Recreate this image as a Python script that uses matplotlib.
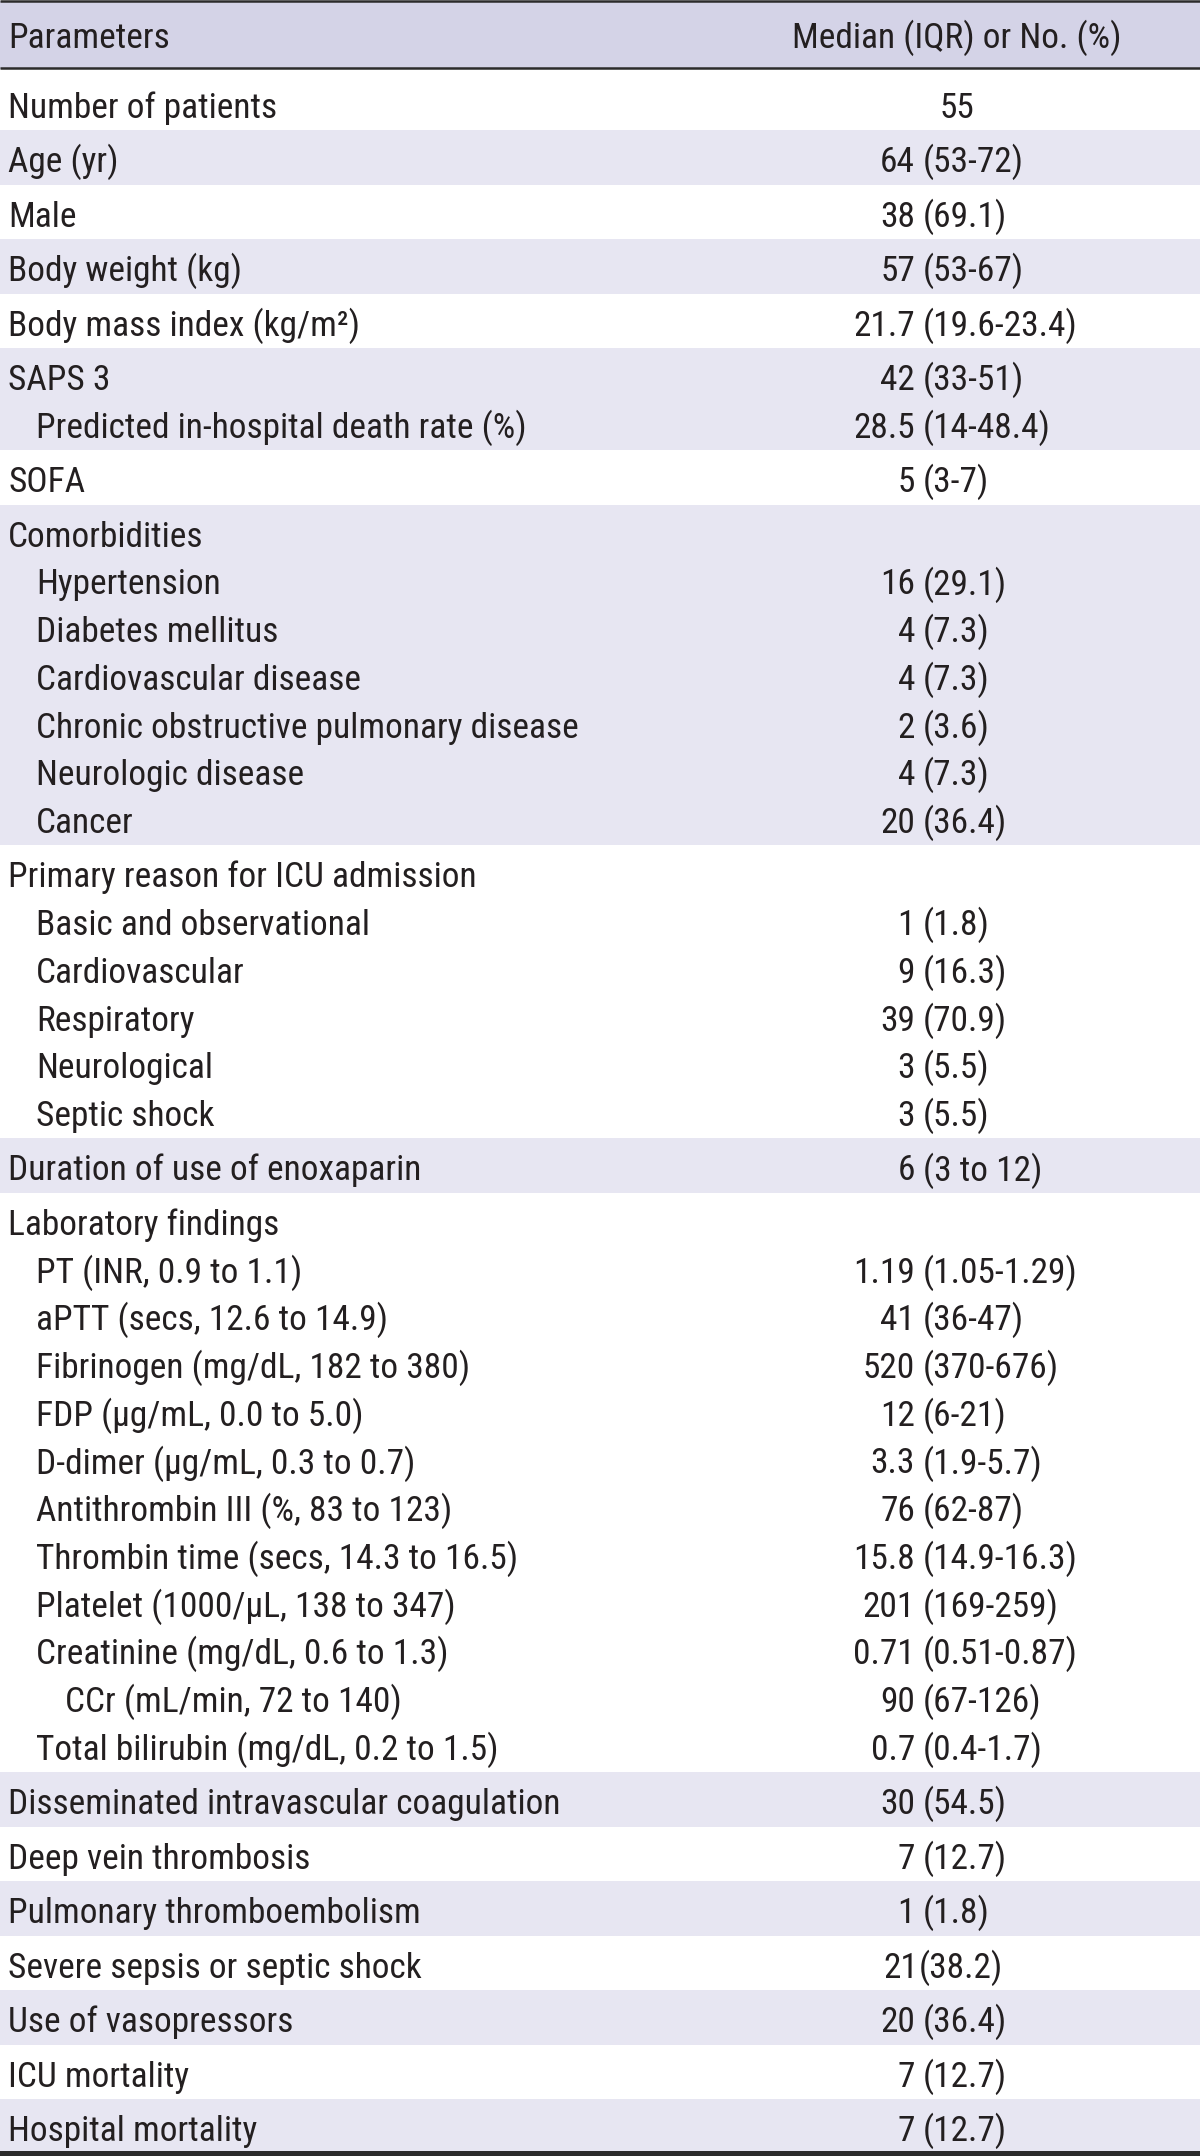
import matplotlib
matplotlib.use('Agg')
import matplotlib.pyplot as plt
from matplotlib import font_manager
from matplotlib.patches import Rectangle

# table content
row_labels = [
    'Number of patients', 'Age (yr)', 'Male', 'Body weight (kg)',
    'Body mass index (kg/m\u00b2)', 'SAPS 3', 'Predicted in-hospital death rate (%)',
    'SOFA', 'Comorbidities', 'Hypertension', 'Diabetes mellitus',
    'Cardiovascular disease', 'Chronic obstructive pulmonary disease',
    'Neurologic disease', 'Cancer', 'Primary reason for ICU admission',
    'Basic and observational', 'Cardiovascular', 'Respiratory', 'Neurological',
    'Septic shock', 'Duration of use of enoxaparin', 'Laboratory findings',
    'PT (INR, 0.9 to 1.1)', 'aPTT (secs, 12.6 to 14.9)',
    'Fibrinogen (mg/dL, 182 to 380)', 'FDP (\u00b5g/mL, 0.0 to 5.0)',
    'D-dimer (\u00b5g/mL, 0.3 to 0.7)', 'Antithrombin III (%, 83 to 123)',
    'Thrombin time (secs, 14.3 to 16.5)', 'Platelet (1000/\u00b5L, 138 to 347)',
    'Creatinine (mg/dL, 0.6 to 1.3)', 'CCr (mL/min, 72 to 140)',
    'Total bilirubin (mg/dL, 0.2 to 1.5)', 'Disseminated intravascular coagulation',
    'Deep vein thrombosis', 'Pulmonary thromboembolism',
    'Severe sepsis or septic shock', 'Use of vasopressors', 'ICU mortality',
    'Hospital mortality',
]
row_values = [
    '55', '64 (53-72)', '38 (69.1)', '57 (53-67)', '21.7 (19.6-23.4)',
    '42 (33-51)', '28.5 (14-48.4)', '5 (3-7)', '', '16 (29.1)', '4 (7.3)',
    '4 (7.3)', '2 (3.6)', '4 (7.3)', '20 (36.4)', '', '1 (1.8)', '9 (16.3)',
    '39 (70.9)', '3 (5.5)', '3 (5.5)', '6 (3 to 12)', '', '1.19 (1.05-1.29)',
    '41 (36-47)', '520 (370-676)', '12 (6-21)', '3.3 (1.9-5.7)', '76 (62-87)',
    '15.8 (14.9-16.3)', '201 (169-259)', '0.71 (0.51-0.87)', '90 (67-126)',
    '0.7 (0.4-1.7)', '30 (54.5)', '7 (12.7)', '1 (1.8)', '21(38.2)',
    '20 (36.4)', '7 (12.7)', '7 (12.7)',
]
row_level = [0, 0, 0, 0, 0, 0, 1, 0, 0, 1, 1, 1, 1, 1, 1, 0, 1, 1, 1, 1, 1, 0,
             0, 1, 1, 1, 1, 1, 1, 1, 1, 1, 2, 1, 0, 0, 0, 0, 0, 0, 0]
row_group = [0, 1, 2, 3, 4, 5, 5, 6, 7, 7, 7, 7, 7, 7, 7, 8, 8, 8, 8, 8, 8, 9,
             10, 10, 10, 10, 10, 10, 10, 10, 10, 10, 10, 10, 11, 12, 13, 14, 15, 16, 17]
col_headers = ['Parameters', 'Median (IQR) or No. (%)']

# font: narrow sans if we have one
avail = {f.name for f in font_manager.fontManager.ttflist}
font = 'Liberation Sans'
for cand in ['Liberation Sans Narrow', 'DejaVu Sans Condensed', 'Roboto Condensed']:
    if cand in avail:
        font = cand
        break
plt.rcParams['font.family'] = [font, 'DejaVu Sans']

W, H = 1200, 2156
fig = plt.figure(figsize=(W / 100, H / 100), dpi=100)
ax = fig.add_axes([0, 0, 1, 1])
ax.set_xlim(0, W)
ax.set_ylim(H, 0)
ax.axis('off')

txt_col = '#231f20'
line_col = '#2b2b2b'
head_fill = '#d4d3e7'
shade_fill = '#e7e6f2'
fs = 25.5

line_h = 47.7
pad = 3.4
head_bot = 69
x_lvl = [8, 36, 65]
x_cut = 915  # right edge of number part, brackets start just after

# header
ax.add_patch(Rectangle((0, 1), W, head_bot - 1, color=head_fill, lw=0))
ax.text(x_lvl[0], 48, col_headers[0], fontsize=fs, color=txt_col, va='baseline')
ax.text(957, 48, col_headers[1], fontsize=fs, color=txt_col, va='baseline', ha='center')

# body rows, grouped
y = head_bot + 6.5
n_groups = max(row_group) + 1
for g in range(n_groups):
    idx = [i for i in range(len(row_labels)) if row_group[i] == g]
    h = len(idx) * line_h + 2 * pad
    top = y
    if g == 0:
        top = head_bot
    if g % 2 == 1:
        ax.add_patch(Rectangle((0, top), W, y + h - top, color=shade_fill, lw=0))
    for k, i in enumerate(idx):
        base = y + pad + (k + 0.5) * line_h + 14.8
        ax.text(x_lvl[row_level[i]], base, row_labels[i], fontsize=fs,
                color=txt_col, va='baseline')
        v = row_values[i]
        if not v:
            continue
        if '(' not in v:
            ax.text(957, base, v, fontsize=fs, color=txt_col, va='baseline', ha='center')
            continue
        p = v.index('(')
        num, rest = v[:p], v[p:]
        if num.endswith(' '):
            ax.text(x_cut, base, num.strip(), fontsize=fs, color=txt_col,
                    va='baseline', ha='right')
            ax.text(x_cut + 8, base, rest, fontsize=fs, color=txt_col, va='baseline')
        else:
            ax.text(x_cut + 3, base, num, fontsize=fs, color=txt_col,
                    va='baseline', ha='right')
            ax.text(x_cut + 4, base, rest, fontsize=fs, color=txt_col, va='baseline')
    y += h

# rules
ax.plot([0, W], [1.2, 1.2], color=line_col, lw=1.8, solid_capstyle='butt')
ax.plot([0, W], [head_bot - 1.2, head_bot - 1.2], color=line_col, lw=1.8, solid_capstyle='butt')
ax.add_patch(Rectangle((0, 2151), W, 5, color=line_col, lw=0))

fig.savefig('out.png', dpi=100, facecolor='white')
